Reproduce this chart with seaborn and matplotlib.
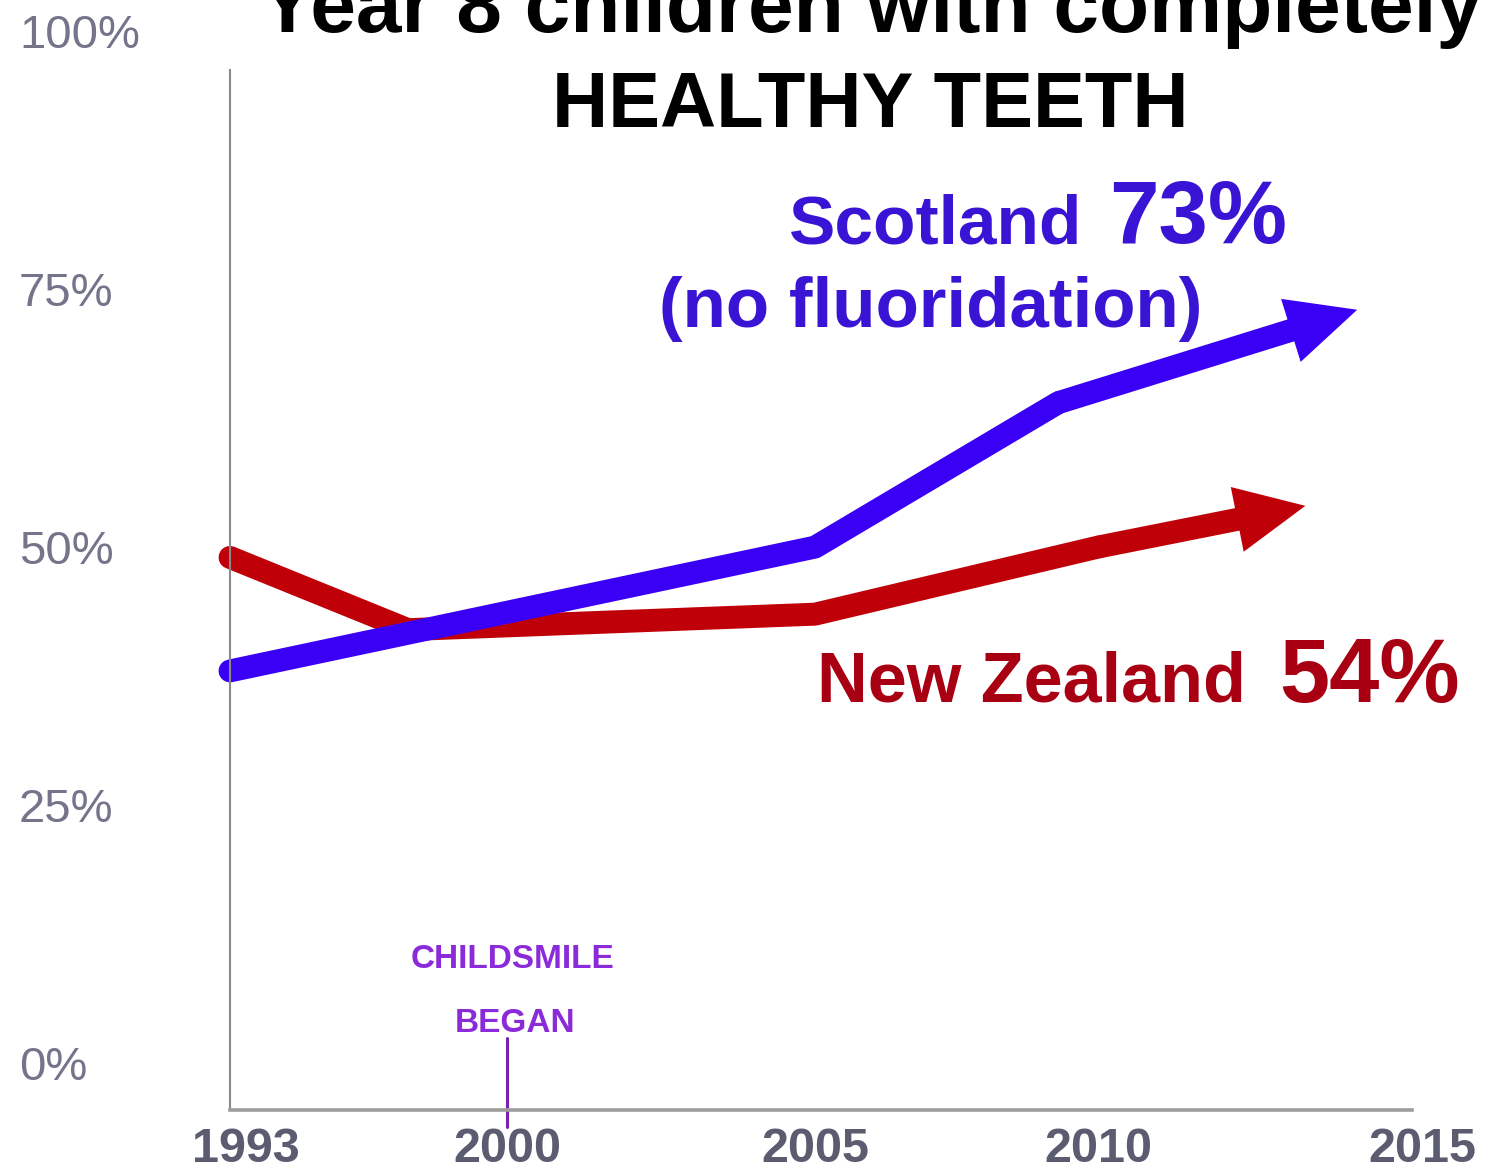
import numpy as np
import matplotlib
matplotlib.use("Agg")
import matplotlib.pyplot as plt
import matplotlib.transforms as mtransforms
import seaborn as sns

# --- data -----------------------------------------------------------------
scot_years = [1993, 2005, 2009.3, 2014]
scot_pct = [38, 50, 64, 73]

nz_years = [1993, 1997.5, 2005, 2010, 2013.2]
nz_pct = [49, 42, 43.5, 50, 54]

x_ticks = [1993, 2000, 2005, 2010, 2015]
y_ticks = [0, 25, 50, 75, 100]
y_tick_labels = ["0%", "25%", "50%", "75%", "100%"]

childsmile_year = 2000

# --- style ----------------------------------------------------------------
sns.set_theme(style="white")
plt.rcParams["font.family"] = ["Liberation Sans", "DejaVu Sans"]

BLUE_LINE = "#3a00f5"
BLUE_TEXT = "#3a14d4"
RED_LINE = "#c00008"
RED_TEXT = "#a80012"
PURPLE = "#8a2ad8"

W, H = 1486, 1172
fig = plt.figure(figsize=(W / 100, H / 100), dpi=100)
fig.patch.set_facecolor("white")


def fx(px):
    return px / W


def fy(py):
    return 1 - py / H


ax = fig.add_axes([fx(230), fy(1110), fx(1422) - fx(230), fy(26) - fy(1110)])

# piecewise-linear time axis (ticks are not evenly spaced in years)
_YA = np.array([1993, 2000, 2005, 2010, 2015], float)
_PA = np.array([0.0, 277.0, 585.0, 868.0, 1192.0])


def _pw(x, xs, ys):
    a = np.asarray(x, float)
    flat = np.atleast_1d(a).astype(float)
    out = np.interp(flat, xs, ys)
    lo = flat < xs[0]
    hi = flat > xs[-1]
    out[lo] = ys[0] + (flat[lo] - xs[0]) * (ys[1] - ys[0]) / (xs[1] - xs[0])
    out[hi] = ys[-1] + (flat[hi] - xs[-1]) * (ys[-1] - ys[-2]) / (xs[-1] - xs[-2])
    return out.reshape(a.shape) if a.ndim else out[0]


ax.set_xscale("function", functions=(lambda x: _pw(x, _YA, _PA),
                                     lambda p: _pw(p, _PA, _YA)))
ax.set_xlim(1993, 2015)
ax.set_ylim(-4.55, 100.5)

# --- lines ----------------------------------------------------------------
line_kw = dict(linewidth=16.5, solid_capstyle="round", solid_joinstyle="round",
               sort=False, estimator=None, legend=False, clip_on=False)
sns.lineplot(x=nz_years[:-1], y=nz_pct[:-1], color=RED_LINE, ax=ax, **line_kw)
sns.lineplot(x=scot_years[:-1], y=scot_pct[:-1], color=BLUE_LINE, ax=ax, **line_kw)

arrow_style = "simple,head_length=1.0,head_width=0.95,tail_width=0.33"
for xs, ys, col in [(nz_years, nz_pct, RED_LINE), (scot_years, scot_pct, BLUE_LINE)]:
    ax.annotate("", xy=(xs[-1], ys[-1]), xytext=(xs[-2], ys[-2]),
                xycoords="data", textcoords="data", annotation_clip=False,
                arrowprops=dict(arrowstyle=arrow_style, mutation_scale=50,
                                color=col, lw=0, shrinkA=0, shrinkB=0))

# Childsmile marker
ax.axvline(childsmile_year, ymin=-0.0157, ymax=0.0664, color="#7a22b0",
           lw=2.2, clip_on=False, zorder=1)

# --- axes -----------------------------------------------------------------
for s in ["top", "right"]:
    ax.spines[s].set_visible(False)
ax.spines["left"].set_color("#8a8a8a")
ax.spines["left"].set_linewidth(1.5)
ax.spines["left"].set_bounds(-4.55, 96.2)
ax.spines["bottom"].set_color("#9c9c9c")
ax.spines["bottom"].set_linewidth(2.6)
ax.spines["bottom"].set_bounds(1993, 2014.85)

ax.set_xticks(x_ticks)
ax.set_xticklabels([str(t) for t in x_ticks])
ax.set_yticks(y_ticks)
ax.set_yticklabels(y_tick_labels)
ax.tick_params(axis="x", length=0, pad=12, labelsize=35, labelcolor="#5c5c70")
ax.tick_params(axis="y", length=0, pad=152, labelsize=34, labelcolor="#74748a")
for lab in ax.get_xticklabels():
    lab.set_fontweight("bold")
for lab in ax.get_yticklabels():
    lab.set_horizontalalignment("left")
ax.get_xticklabels()[0].set_transform(
    ax.get_xticklabels()[0].get_transform()
    + mtransforms.ScaledTranslation(0.16, 0, fig.dpi_scale_trans))
ax.set_xlabel("")
ax.set_ylabel("")
ax.grid(False)

# --- text -----------------------------------------------------------------
fig.text(fx(871), fy(32), "Year 8 children with completely", ha="center",
         va="baseline", fontsize=59, fontweight="bold", color="black")
fig.text(fx(870), fy(127), "HEALTHY TEETH", ha="center", va="baseline",
         fontsize=56, fontweight="bold", color="black")

fig.text(fx(789), fy(243), "Scotland", ha="left", va="baseline",
         fontsize=50, fontweight="bold", color=BLUE_TEXT)
fig.text(fx(1109), fy(243), f"{scot_pct[-1]}%", ha="left", va="baseline",
         fontsize=64, fontweight="bold", color=BLUE_TEXT)
fig.text(fx(659), fy(327), "(no fluoridation)", ha="left", va="baseline",
         fontsize=51, fontweight="bold", color=BLUE_TEXT)

fig.text(fx(817), fy(702), "New Zealand", ha="left", va="baseline",
         fontsize=50.5, fontweight="bold", color=RED_TEXT)
fig.text(fx(1279), fy(702), f"{nz_pct[-1]}%", ha="left", va="baseline",
         fontsize=65, fontweight="bold", color=RED_TEXT)

fig.text(fx(513), fy(968), "CHILDSMILE", ha="center", va="baseline",
         fontsize=24, fontweight="bold", color=PURPLE)
fig.text(fx(515), fy(1032), "BEGAN", ha="center", va="baseline",
         fontsize=24, fontweight="bold", color=PURPLE)

fig.savefig("out.png", dpi=100, facecolor="white")
